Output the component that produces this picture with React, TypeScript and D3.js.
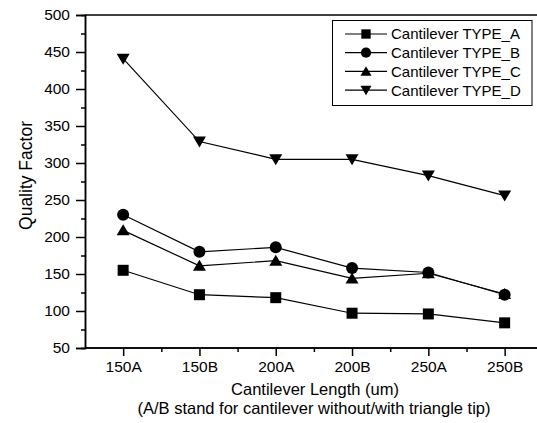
import React, { useEffect, useRef } from "react";
import * as d3 from "d3";

const categories = ["150A", "150B", "200A", "200B", "250A", "250B"];
const seriesNames = ["Cantilever TYPE_A", "Cantilever TYPE_B", "Cantilever TYPE_C", "Cantilever TYPE_D"];
const typeA = [155, 122, 118, 97, 96, 84];
const typeB = [230, 180, 186, 158, 152, 122];
const typeC = [209, 161, 168, 144, 151, 123];
const typeD = [441, 329, 305, 305, 283, 256];
const yTicks = [50, 100, 150, 200, 250, 300, 350, 400, 450, 500];

const FONT = "'Liberation Sans', Arial, sans-serif";

// marker path centred on 0,0
function markerPath(kind: string) {
    if (kind === "square") return "M-5.5,-5.5H5.5V5.5H-5.5Z";
    if (kind === "up") return "M0,-6L6.5,5L-6.5,5Z";
    if (kind === "down") return "M0,6L6.5,-5L-6.5,-5Z";
    return d3.arc()({ innerRadius: 0, outerRadius: 6, startAngle: 0, endAngle: 2 * Math.PI } as any) as string;
}

const App = () => {
    const ref = useRef<SVGSVGElement>(null);

    useEffect(() => {
        const W = 537;
        const H = 423;
        const left = 85, top = 15, bottom = 348;
        const svg = d3.select(ref.current);
        svg.selectAll("*").remove();
        svg.attr("width", W).attr("height", H);

        const x = d3.scaleLinear().domain([0.5, 6.5]).range([left, left + 6 * 76.3]);
        const y = d3.scaleLinear().domain([50, 500]).range([bottom, top]);

        const series = [
            { name: seriesNames[0], values: typeA, marker: "square" },
            { name: seriesNames[1], values: typeB, marker: "circle" },
            { name: seriesNames[2], values: typeC, marker: "up" },
            { name: seriesNames[3], values: typeD, marker: "down" },
        ];

        // frame (top + bottom + left, right side runs off the picture)
        const frame = svg.append("g").attr("stroke", "#000").attr("stroke-width", 1.5).attr("fill", "none");
        frame.append("line").attr("x1", left).attr("x2", W).attr("y1", top).attr("y2", top);

        // y axis
        const yAxis = svg.append("g").attr("transform", `translate(${left},0)`);
        yAxis.call(
            d3.axisLeft(y).tickValues(yTicks).tickSize(9).tickPadding(6).tickFormat(d3.format("d")) as any
        );
        yAxis.append("g").call(
            d3.axisLeft(y).tickValues(d3.range(75, 500, 50)).tickSize(4).tickFormat(() => "") as any
        );

        // x axis
        const xAxis = svg.append("g").attr("transform", `translate(0,${bottom})`);
        xAxis.call(
            d3.axisBottom(x).tickValues(d3.range(1, 7)).tickSize(8).tickPadding(5)
                .tickFormat((d: any) => categories[d - 1]) as any
        );
        xAxis.append("g").call(
            d3.axisBottom(x).tickValues(d3.range(1.5, 6.5, 1)).tickSize(4).tickFormat(() => "") as any
        );

        svg.selectAll(".domain").attr("stroke-width", 1.5);
        svg.selectAll(".tick line").attr("stroke-width", 1.5);
        svg.selectAll(".tick text")
            .attr("font-family", FONT)
            .attr("font-size", 15.5)
            .attr("fill", "#000");
        xAxis.selectAll(".domain").attr("d", `M${left},0H${W}`);

        // axis titles
        svg.append("text")
            .attr("transform", `translate(32,175.5) rotate(-90)`)
            .attr("text-anchor", "middle")
            .attr("font-family", FONT)
            .attr("font-size", 17.5)
            .text("Quality Factor");

        svg.append("text")
            .attr("x", 315)
            .attr("y", 395)
            .attr("text-anchor", "middle")
            .attr("font-family", FONT)
            .attr("font-size", 16.5)
            .text("Cantilever Length (um)");

        svg.append("text")
            .attr("x", 314)
            .attr("y", 414)
            .attr("text-anchor", "middle")
            .attr("font-family", FONT)
            .attr("font-size", 16.5)
            .text("(A/B stand for cantilever without/with triangle tip)");

        // lines and markers
        const line = d3.line<number>()
            .x((d, i) => x(i + 1))
            .y((d) => y(d));

        series.forEach((s) => {
            svg.append("path")
                .datum(s.values)
                .attr("fill", "none")
                .attr("stroke", "#000")
                .attr("stroke-width", 1.2)
                .attr("d", line);

            svg.append("g")
                .selectAll("path")
                .data(s.values)
                .join("path")
                .attr("transform", (d, i) => `translate(${x(i + 1)},${y(d)})`)
                .attr("d", markerPath(s.marker))
                .attr("fill", "#000");
        });

        // legend
        const legend = svg.append("g");
        legend.append("rect")
            .attr("x", 332.5)
            .attr("y", 20.5)
            .attr("width", 199.5)
            .attr("height", 85)
            .attr("fill", "#fff")
            .attr("stroke", "#000")
            .attr("stroke-width", 1);

        series.forEach((s, i) => {
            const cy = 34 + i * 18.7;
            const row = legend.append("g");
            row.append("line")
                .attr("x1", 345).attr("x2", 387)
                .attr("y1", cy).attr("y2", cy)
                .attr("stroke", "#000").attr("stroke-width", 1.2);
            row.append("path")
                .attr("transform", `translate(366,${cy}) scale(0.85)`)
                .attr("d", markerPath(s.marker))
                .attr("fill", "#000");
            row.append("text")
                .attr("x", 391)
                .attr("y", cy)
                .attr("dy", "0.36em")
                .attr("font-family", FONT)
                .attr("font-size", 15)
                .text(s.name);
        });
    }, []);

    return (
        <svg
            ref={ref}
            style={{ position: "absolute", left: 0, top: 0, background: "#fff", overflow: "hidden" }}
        />
    );
};

export default App;
